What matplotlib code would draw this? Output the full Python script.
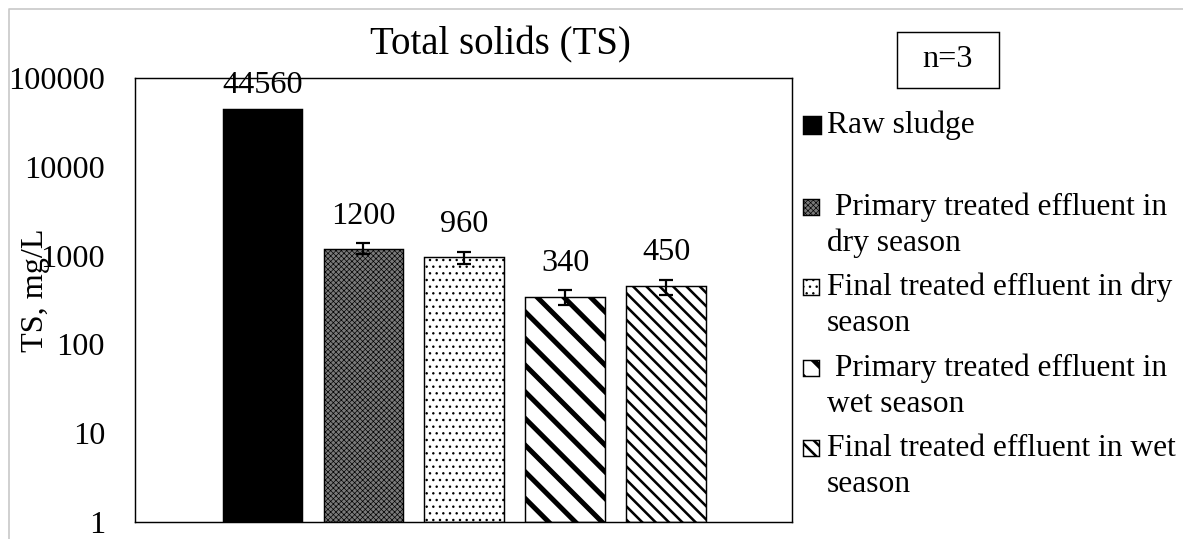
import numpy as np
import matplotlib
matplotlib.use("Agg")
import matplotlib.pyplot as plt
from matplotlib.patches import Rectangle
from matplotlib.lines import Line2D

# TS results per sample type (mg/L), n=3
categories = [
    "Raw sludge",
    " Primary treated effluent in\ndry season",
    "Final treated effluent in dry\nseason",
    " Primary treated effluent in\nwet season",
    "Final treated effluent in wet\nseason",
]
ts_mean = [44560, 1200, 960, 340, 450]
ts_err = [None, 170, 150, 65, 87]
y_ticks = [1, 10, 100, 1000, 10000, 100000]

# bar look: (face, hatch, hatch linewidth)
styles = [
    ("black", None, 1.0),
    ("#7a7a7a", "xxxxx", 0.6),
    ("white", "..", 1.0),
    ("white", "\\", 4.5),
    ("white", "\\\\", 2.3),
]

W, H, DPI = 1183, 539, 80
plt.rcParams["font.family"] = ["Liberation Serif", "DejaVu Serif"]
plt.rcParams["font.size"] = 29


def fx(x):
    return x / W


def fy(y):
    return 1 - y / H


def styled_patch(patch, face, hatch, hlw):
    patch.set_facecolor(face)
    patch.set_edgecolor("black")
    if hatch:
        patch.set_hatch(hatch)
        if hasattr(patch, "set_hatch_linewidth"):
            patch.set_hatch_linewidth(hlw)


fig = plt.figure(figsize=(W / DPI, H / DPI), dpi=DPI)
ax = fig.add_axes([fx(135), fy(522), fx(792 - 135), (522 - 78) / H])

x = np.arange(len(ts_mean))
for i, (face, hatch, hlw) in enumerate(styles):
    with plt.rc_context({"hatch.linewidth": hlw}):
        bars = ax.bar(x[i], ts_mean[i], width=0.79, bottom=1,
                      linewidth=1.3, zorder=2)
    styled_patch(bars[0], face, hatch, hlw)

# error bars only where a spread was measured
idx = [i for i, e in enumerate(ts_err) if e is not None]
ax.errorbar(x[idx], [ts_mean[i] for i in idx], yerr=[ts_err[i] for i in idx],
            fmt="none", ecolor="black", elinewidth=2, capsize=6, capthick=2,
            zorder=3)

for i, v in enumerate(ts_mean):
    top = v + (ts_err[i] or 0)
    off = 11 if ts_err[i] else 8
    ax.annotate(str(v), (x[i], top), xytext=(0, off), textcoords="offset points",
                ha="center", va="bottom")

ax.set_yscale("log")
ax.set_ylim(1, 100000)
ax.set_xlim(-1.264, 5.247)
ax.set_yticks(y_ticks)
ax.set_yticklabels([str(t) for t in y_ticks])
ax.yaxis.set_minor_locator(matplotlib.ticker.NullLocator())
ax.tick_params(axis="y", length=0, pad=27)
ax.set_xticks([])
for s in ax.spines.values():
    s.set_linewidth(1.3)

fig.text(fx(500), fy(45), "Total solids (TS)", ha="center", va="center",
         fontsize=35)
fig.text(fx(36), fy(290), "TS, mg/L", rotation=90, ha="center", va="center")

# n=3 box
fig.patches.append(Rectangle((fx(897), fy(88)), fx(102), 56 / H,
                             transform=fig.transFigure, facecolor="white",
                             edgecolor="black", linewidth=1.3))
fig.text(fx(948), fy(60), "n=3", ha="center", va="center")

# legend drawn by hand
first_line = [125, 207, 287, 368, 448]
line_gap = 36.5
for i, lab in enumerate(categories):
    face, hatch, hlw = styles[i]
    size = 18 if i == 0 else 16
    y0 = first_line[i]
    with plt.rc_context({"hatch.linewidth": hlw}):
        m = Rectangle((fx(803), fy(y0 + size / 2)), fx(size), size / H,
                      transform=fig.transFigure, linewidth=1.3)
    styled_patch(m, face, hatch, hlw)
    fig.patches.append(m)
    for k, line in enumerate(lab.split("\n")):
        fig.text(fx(827), fy(y0 + k * line_gap), line, ha="left", va="center",
                 fontsize=28.3)

# light frame around the chart area
fig.lines.append(Line2D([fx(9), fx(9), 1], [0, fy(9), fy(9)],
                        transform=fig.transFigure, color="#c8c8c8", linewidth=1.5))

fig.savefig("out.png", dpi=DPI)
